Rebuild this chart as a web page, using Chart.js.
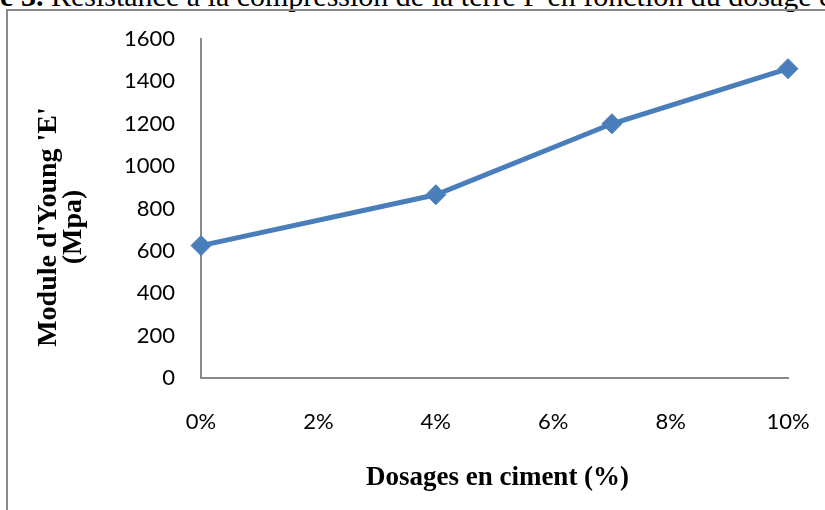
<!DOCTYPE html>
<html>
<head>
<meta charset="utf-8">
<script src="https://cdn.jsdelivr.net/npm/chart.js@4.4.1/dist/chart.umd.min.js"></script>
<style>
  html, body { margin: 0; padding: 0; background: #fff; overflow: hidden; }
  #wrap { position: relative; width: 825px; height: 510px; overflow: hidden; }
  #caption { position: absolute; left: -71px; top: -19px; white-space: nowrap;
    font-family: "Liberation Serif", "Times New Roman", serif; font-size: 30px; line-height: 30px; color: #000; }
  #box { position: absolute; left: 6px; top: 9px; width: 900px; height: 600px;
    border-left: 2px solid #8a8a8a; border-top: 2px solid #8a8a8a; }
  canvas { position: absolute; left: 0; top: 0; }
</style>
</head>
<body>
<div id="wrap">
  <div id="caption"><b>Figure 3.</b> Résistance à la compression de la terre F en fonction du dosage en ciment</div>
  <div id="box"></div>
  <canvas id="c" width="825" height="510"></canvas>
</div>
<script>
const dosages = [0, 4, 7, 10];            // % ciment
const moduleYoung = [625, 865, 1200, 1460]; // MPa
const xTicks = [0, 2, 4, 6, 8, 10];
const yTicks = [0, 200, 400, 600, 800, 1000, 1200, 1400, 1600];
const xTitle = 'Dosages en ciment (%)';
const yTitle = ["Module d'Young 'E'", '(Mpa)'];

const points = dosages.map((d, i) => ({ x: d, y: moduleYoung[i] }));
const blue = '#4A7EBB';
const tickFont = { family: 'Lato, "Open Sans", sans-serif', size: 22 };

const titlesPlugin = {
  id: 'titles',
  afterDraw(chart) {
    const ctx = chart.ctx;
    const a = chart.chartArea;
    ctx.save();
    ctx.fillStyle = '#000';
    ctx.textAlign = 'center';
    ctx.textBaseline = 'middle';
    ctx.font = 'bold 27px "Liberation Serif", "Times New Roman", serif';
    ctx.fillText(xTitle, (a.left + a.right) / 2 + 3, 478);
    ctx.font = 'bold 28px "Liberation Serif", "Times New Roman", serif';
    ctx.translate(0, 227);
    ctx.rotate(-Math.PI / 2);
    ctx.fillText(yTitle[0], 0, 49);
    ctx.fillText(yTitle[1], 0, 74);
    ctx.restore();
  }
};

new Chart(document.getElementById('c'), {
  type: 'line',
  data: {
    datasets: [{
      data: points,
      borderColor: blue,
      backgroundColor: blue,
      borderWidth: 5,
      pointStyle: 'rectRot',
      pointRadius: 10,
      pointHoverRadius: 10,
      pointBackgroundColor: blue,
      pointBorderColor: blue,
      pointBorderWidth: 1,
      tension: 0,
      clip: false
    }]
  },
  options: {
    responsive: false,
    animation: false,
    events: [],
    layout: { padding: { top: 39, right: 37, left: 0, bottom: 0 } },
    plugins: { legend: { display: false }, tooltip: { enabled: false }, title: { display: false } },
    scales: {
      x: {
        type: 'linear',
        min: 0, max: 10,
        afterBuildTicks: s => { s.ticks = xTicks.map(v => ({ value: v })); },
        afterFit: s => { s.height = 132; s.paddingLeft = 0; s.paddingRight = 0; },
        grid: { display: false, drawTicks: false },
        border: { display: true, color: '#8a8a8a', width: 2 },
        ticks: { callback: v => v + '%', font: tickFont, color: '#000', padding: 31, maxRotation: 0, autoSkip: false }
      },
      y: {
        min: 0, max: 1600,
        afterBuildTicks: s => { s.ticks = yTicks.map(v => ({ value: v })); },
        afterFit: s => { s.width = 201; s.paddingTop = 0; s.paddingBottom = 0; },
        grid: { display: false, drawTicks: false },
        border: { display: true, color: '#8a8a8a', width: 2 },
        ticks: { callback: v => String(v), font: tickFont, color: '#000', padding: 26 }
      }
    }
  },
  plugins: [titlesPlugin]
});
</script>
</body>
</html>
